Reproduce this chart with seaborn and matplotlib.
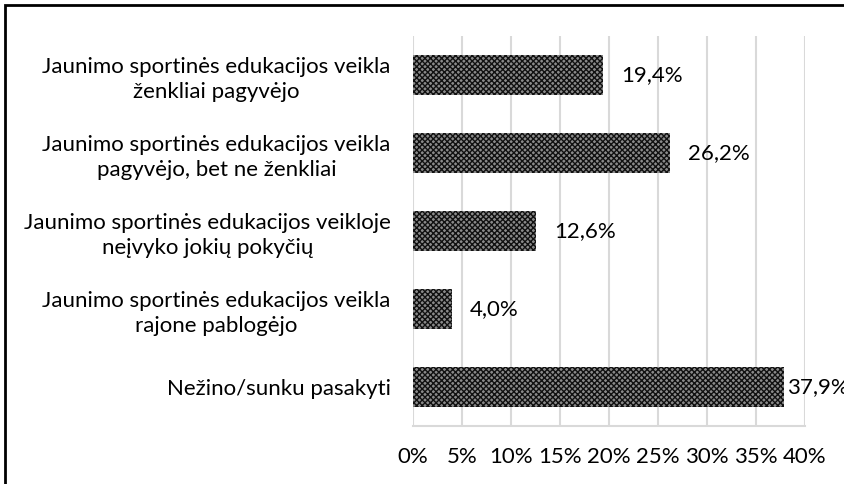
import matplotlib
matplotlib.use("Agg")
import matplotlib.pyplot as plt
import seaborn as sns
import pandas as pd
from matplotlib.patches import Rectangle
from matplotlib.ticker import FuncFormatter

categories = [
    "Jaunimo sportinės edukacijos veikla\nženkliai pagyvėjo",
    "Jaunimo sportinės edukacijos veikla\npagyvėjo, bet ne ženkliai",
    "Jaunimo sportinės edukacijos veikloje\nneįvyko jokių pokyčių",
    "Jaunimo sportinės edukacijos veikla\nrajone pablogėjo",
    "Nežino/sunku pasakyti",
]
values = [19.4, 26.2, 12.6, 4.0, 37.9]
value_labels = ["19,4%", "26,2%", "12,6%", "4,0%", "37,9%"]
xticks = [0, 5, 10, 15, 20, 25, 30, 35, 40]

sns.set_theme(style="white")
plt.rcParams['font.family'] = ['Lato', 'DejaVu Sans']
plt.rcParams['hatch.linewidth'] = 1.0

df = pd.DataFrame({"cat": categories, "val": values})

fig = plt.figure(figsize=(8.44, 4.84), dpi=100)
ax = fig.add_axes([413/844, 1 - 426/484, (805-413)/844, (426-36)/484])

sns.barplot(data=df, x="val", y="cat", ax=ax, orient="h", width=0.51,
            color="white", edgecolor="none", saturation=1)
for p in ax.patches:
    p.set_facecolor("#8a8a8a")
    p.set_hatch("xxxxxx")
    p.set_edgecolor("#111111")
    p.set_linewidth(0)

FS = 16
ax.set_xlim(0, 40)
ax.set_xticks(xticks)
ax.xaxis.set_major_formatter(FuncFormatter(lambda v, _: f"{int(v)}%"))
ax.grid(axis="x", color="#d9d9d9", linewidth=1.5)
ax.set_axisbelow(True)
for s in ["top", "right", "left"]:
    ax.spines[s].set_visible(False)
ax.spines["bottom"].set_color("#d9d9d9")
ax.spines["bottom"].set_linewidth(1.5)
ax.set_xlabel("")
ax.set_ylabel("")
ax.tick_params(axis="x", length=0, pad=15, labelsize=FS, labelcolor="#000000")
ax.tick_params(axis="y", length=0, pad=16, labelsize=FS, labelcolor="#000000")
for t in ax.get_yticklabels():
    t.set_multialignment("center")
    t.set_linespacing(1.3)

for i, (v, lab) in enumerate(zip(values, value_labels)):
    off = 2 if v > 35 else 13
    ax.annotate(lab, xy=(v, i), xytext=(off, 0), textcoords="offset points",
                ha="left", va="center", fontsize=FS, color="#000000",
                annotation_clip=False)

fig.patches.append(Rectangle((5/844, -0.1), 1.2, 1 - 5/484 + 0.1,
                             transform=fig.transFigure, fill=False,
                             edgecolor="black", linewidth=2))

fig.savefig("out.png", dpi=100, facecolor="white")
